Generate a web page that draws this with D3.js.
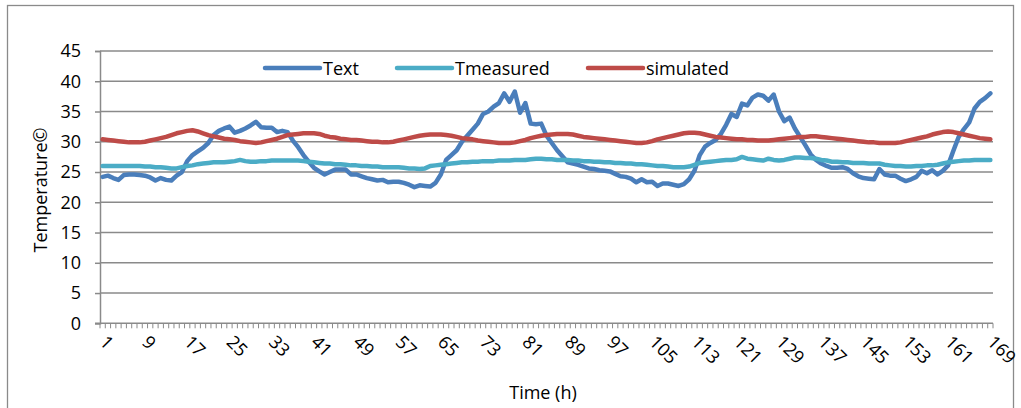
<!DOCTYPE html>
<html>
<head>
<meta charset="utf-8">
<script src="https://cdn.jsdelivr.net/npm/d3@7"></script>
<style>
  body { margin: 0; background: #fff; }
  svg { display: block; font-family: "Open Sans", "Noto Sans", sans-serif; }
</style>
</head>
<body>
<div id="chart"></div>
<script>
// hours 1..169
const hours = d3.range(1, 170);

const text = [
  24.2, 24.4, 24.0, 23.7, 24.5, 24.6, 24.6, 24.5, 24.4, 24.1, 23.6, 24.0, 23.7, 23.6, 24.4, 25.0,
  26.8, 27.8, 28.4, 29.0, 29.8, 31.1, 31.8, 32.2, 32.5, 31.5, 31.8, 32.2, 32.7, 33.3, 32.4, 32.3,
  32.3, 31.6, 31.8, 31.6, 30.2, 29.1, 27.8, 26.7, 25.7, 25.1, 24.6, 25.0, 25.4, 25.4, 25.4, 24.6,
  24.6, 24.3, 24.0, 23.8, 23.6, 23.7, 23.3, 23.4, 23.4, 23.2, 22.9, 22.5, 22.8, 22.7, 22.6, 23.2,
  24.6, 27.0, 27.8, 28.6, 30.0, 31.0, 32.0, 33.0, 34.6, 35.0, 35.8, 36.4, 38.0, 36.6, 38.3, 34.8,
  36.4, 33.0, 32.9, 33.0, 31.0, 29.8, 28.6, 27.6, 26.6, 26.4, 26.2, 25.9, 25.6, 25.5, 25.3, 25.2,
  25.1, 24.7, 24.3, 24.2, 23.9, 23.3, 23.8, 23.3, 23.4, 22.7, 23.1, 23.1, 22.9, 22.7, 23.0, 23.8,
  25.2, 27.8, 29.2, 29.8, 30.3, 31.3, 32.8, 34.6, 34.1, 36.3, 36.0, 37.3, 37.8, 37.6, 36.8, 37.8,
  35.0, 33.4, 34.0, 32.2, 30.8, 29.4, 27.9, 27.0, 26.4, 26.0, 25.7, 25.7, 25.8, 25.5, 24.8, 24.3,
  24.0, 23.9, 23.8, 25.5, 24.6, 24.4, 24.4, 23.9, 23.5, 23.8, 24.2, 25.2, 24.8, 25.3, 24.6, 25.2,
  26.1, 28.5, 30.8, 32.1, 33.2, 35.5, 36.6, 37.2, 38.0
];

const tmeasured = [
  26.0, 26.0, 26.0, 26.0, 26.0, 26.0, 26.0, 26.0, 25.9, 25.9, 25.8, 25.8, 25.7, 25.6, 25.6, 25.8,
  26.0, 26.1, 26.3, 26.4, 26.5, 26.6, 26.6, 26.6, 26.7, 26.8, 27.0, 26.8, 26.7, 26.7, 26.8, 26.8,
  26.9, 26.9, 26.9, 26.9, 26.9, 26.9, 26.8, 26.7, 26.6, 26.5, 26.4, 26.4, 26.3, 26.3, 26.2, 26.1,
  26.1, 26.0, 26.0, 25.9, 25.9, 25.8, 25.8, 25.8, 25.8, 25.7, 25.6, 25.6, 25.5, 25.6, 26.0, 26.1,
  26.2, 26.3, 26.4, 26.5, 26.6, 26.6, 26.7, 26.7, 26.8, 26.8, 26.8, 26.9, 26.9, 26.9, 27.0, 27.0,
  27.0, 27.1, 27.2, 27.2, 27.1, 27.1, 27.0, 27.0, 27.0, 26.9, 26.9, 26.8, 26.8, 26.7, 26.7, 26.6,
  26.6, 26.5, 26.5, 26.4, 26.4, 26.3, 26.3, 26.2, 26.1, 26.0, 26.0, 25.9, 25.8, 25.8, 25.8, 25.9,
  26.2, 26.5, 26.6, 26.7, 26.8, 26.9, 27.0, 27.0, 27.1, 27.5, 27.2, 27.1, 27.0, 26.9, 27.2, 27.0,
  26.9, 27.0, 27.2, 27.4, 27.4, 27.3, 27.3, 27.2, 27.0, 26.9, 26.7, 26.7, 26.6, 26.6, 26.5, 26.5,
  26.5, 26.4, 26.4, 26.4, 26.2, 26.1, 26.0, 26.0, 25.9, 25.9, 26.0, 26.0, 26.1, 26.1, 26.2, 26.4,
  26.6, 26.7, 26.8, 26.9, 26.9, 27.0, 27.0, 27.0, 27.0
];

const simulated = [
  30.4, 30.3, 30.2, 30.1, 30.0, 29.9, 29.9, 29.9, 30.0, 30.2, 30.4, 30.6, 30.8, 31.1, 31.4, 31.6,
  31.8, 31.9, 31.7, 31.4, 31.1, 30.9, 30.7, 30.5, 30.4, 30.3, 30.1, 30.0, 29.9, 29.8, 29.9, 30.1,
  30.3, 30.5, 30.8, 31.1, 31.2, 31.3, 31.4, 31.4, 31.4, 31.3, 31.0, 30.8, 30.7, 30.5, 30.4, 30.3,
  30.3, 30.2, 30.1, 30.0, 30.0, 29.9, 29.9, 30.0, 30.2, 30.4, 30.6, 30.8, 31.0, 31.1, 31.2, 31.2,
  31.2, 31.1, 31.0, 30.8, 30.6, 30.5, 30.4, 30.2, 30.1, 30.0, 29.9, 29.8, 29.8, 29.8, 29.9, 30.1,
  30.3, 30.6, 30.8, 31.0, 31.1, 31.2, 31.3, 31.3, 31.3, 31.2, 31.0, 30.8, 30.7, 30.6, 30.5, 30.4,
  30.3, 30.2, 30.1, 30.0, 29.9, 29.8, 29.8, 29.9, 30.1, 30.4, 30.6, 30.8, 31.0, 31.2, 31.4, 31.5,
  31.5, 31.4, 31.2, 31.0, 30.8, 30.7, 30.6, 30.5, 30.4, 30.4, 30.3, 30.3, 30.2, 30.2, 30.2, 30.3,
  30.4, 30.5, 30.6, 30.7, 30.8, 30.8, 30.9, 30.9, 30.8, 30.7, 30.6, 30.5, 30.4, 30.3, 30.2, 30.1,
  30.0, 29.9, 29.9, 29.8, 29.8, 29.8, 29.8, 29.9, 30.1, 30.3, 30.5, 30.7, 30.9, 31.2, 31.4, 31.6,
  31.7, 31.6, 31.4, 31.2, 31.0, 30.8, 30.6, 30.5, 30.4
];

const yTicks = [0, 5, 10, 15, 20, 25, 30, 35, 40, 45];

const series = [
  { name: "Text", values: text, color: "#4a7ebb" },
  { name: "Tmeasured", values: tmeasured, color: "#4bacc6" },
  { name: "simulated", values: simulated, color: "#be4b48" }
];

const width = 1021, height = 408;
const plotLeft = 100, plotRight = 993, plotTop = 51, plotBottom = 323.3;

const svg = d3.select("#chart").append("svg")
  .attr("width", width)
  .attr("height", height);

// outer chart border
svg.append("rect")
  .attr("x", 7.5).attr("y", 5.5)
  .attr("width", 1006).attr("height", 430)
  .attr("fill", "none")
  .attr("stroke", "#8a8a8a")
  .attr("stroke-width", 1.3);

const x = d3.scaleBand().domain(hours).range([plotLeft, plotRight]).padding(0);
const y = d3.scaleLinear().domain([0, 45]).range([plotBottom, plotTop]);
const cx = d => x(d) + x.bandwidth() / 2;

/* gridlines + y axis */
svg.append("g")
  .selectAll("line")
  .data(yTicks.filter(v => v > 0))
  .enter()
  .append("line")
  .attr("x1", plotLeft).attr("x2", plotRight)
  .attr("y1", d => y(d)).attr("y2", d => y(d))
  .attr("stroke", "#8a8a8a")
  .attr("stroke-width", 1.5);

const yAxis = svg.append("g")
  .attr("transform", `translate(${plotLeft},0)`)
  .call(d3.axisLeft(y).tickValues(yTicks).tickSize(5).tickPadding(14));

yAxis.select(".domain").attr("stroke", "#8a8a8a").attr("stroke-width", 1.5);
yAxis.selectAll(".tick line").attr("stroke", "#8a8a8a").attr("stroke-width", 1.5);
yAxis.selectAll(".tick text")
  .attr("font-size", 18)
  .attr("font-family", "Open Sans")
  .attr("fill", "#000");

/* x axis: ticks between categories */
const xAxis = svg.append("g");
const bounds = hours.map(h => x(h)).concat([plotRight]);

xAxis.append("line")
  .attr("x1", plotLeft - 5).attr("x2", plotRight)
  .attr("y1", plotBottom).attr("y2", plotBottom)
  .attr("stroke", "#8a8a8a")
  .attr("stroke-width", 1.5);

xAxis.selectAll(".xt")
  .data(bounds)
  .enter()
  .append("line")
  .attr("class", "xt")
  .attr("x1", d => d).attr("x2", d => d)
  .attr("y1", plotBottom).attr("y2", plotBottom + 5)
  .attr("stroke", "#8a8a8a")
  .attr("stroke-width", 1);

xAxis.selectAll(".xl")
  .data(hours.filter(h => (h - 1) % 8 === 0))
  .enter()
  .append("text")
  .attr("class", "xl")
  .attr("transform", d => `translate(${cx(d) - 4},${plotBottom + 20}) rotate(45)`)
  .attr("font-size", 18)
  .attr("fill", "#000")
  .text(d => d);

/* series lines */
const line = d3.line()
  .x((v, i) => cx(hours[i]))
  .y(v => y(v));

svg.append("g")
  .selectAll("path")
  .data(series)
  .enter()
  .append("path")
  .attr("d", d => line(d.values))
  .attr("fill", "none")
  .attr("stroke", d => d.color)
  .attr("stroke-width", 4.5)
  .attr("stroke-linejoin", "round")
  .attr("stroke-linecap", "round");

/* legend */
const legendX = [265, 397, 588];
const legend = svg.append("g");

series.forEach((s, i) => {
  legend.append("line")
    .attr("x1", legendX[i]).attr("x2", legendX[i] + 55)
    .attr("y1", 68).attr("y2", 68)
    .attr("stroke", s.color)
    .attr("stroke-width", 4.5)
    .attr("stroke-linecap", "round");
  legend.append("text")
    .attr("x", legendX[i] + 58)
    .attr("y", 74.5)
    .attr("font-size", 18)
    .attr("fill", "#000")
    .text(s.name);
});

/* axis titles */
svg.append("text")
  .attr("transform", `translate(47,190) rotate(-90)`)
  .attr("text-anchor", "middle")
  .attr("font-size", 18)
  .attr("fill", "#000")
  .text("Temperature©");

svg.append("text")
  .attr("x", 543)
  .attr("y", 399)
  .attr("text-anchor", "middle")
  .attr("font-size", 18)
  .attr("fill", "#000")
  .text("Time (h)");
</script>
</body>
</html>
